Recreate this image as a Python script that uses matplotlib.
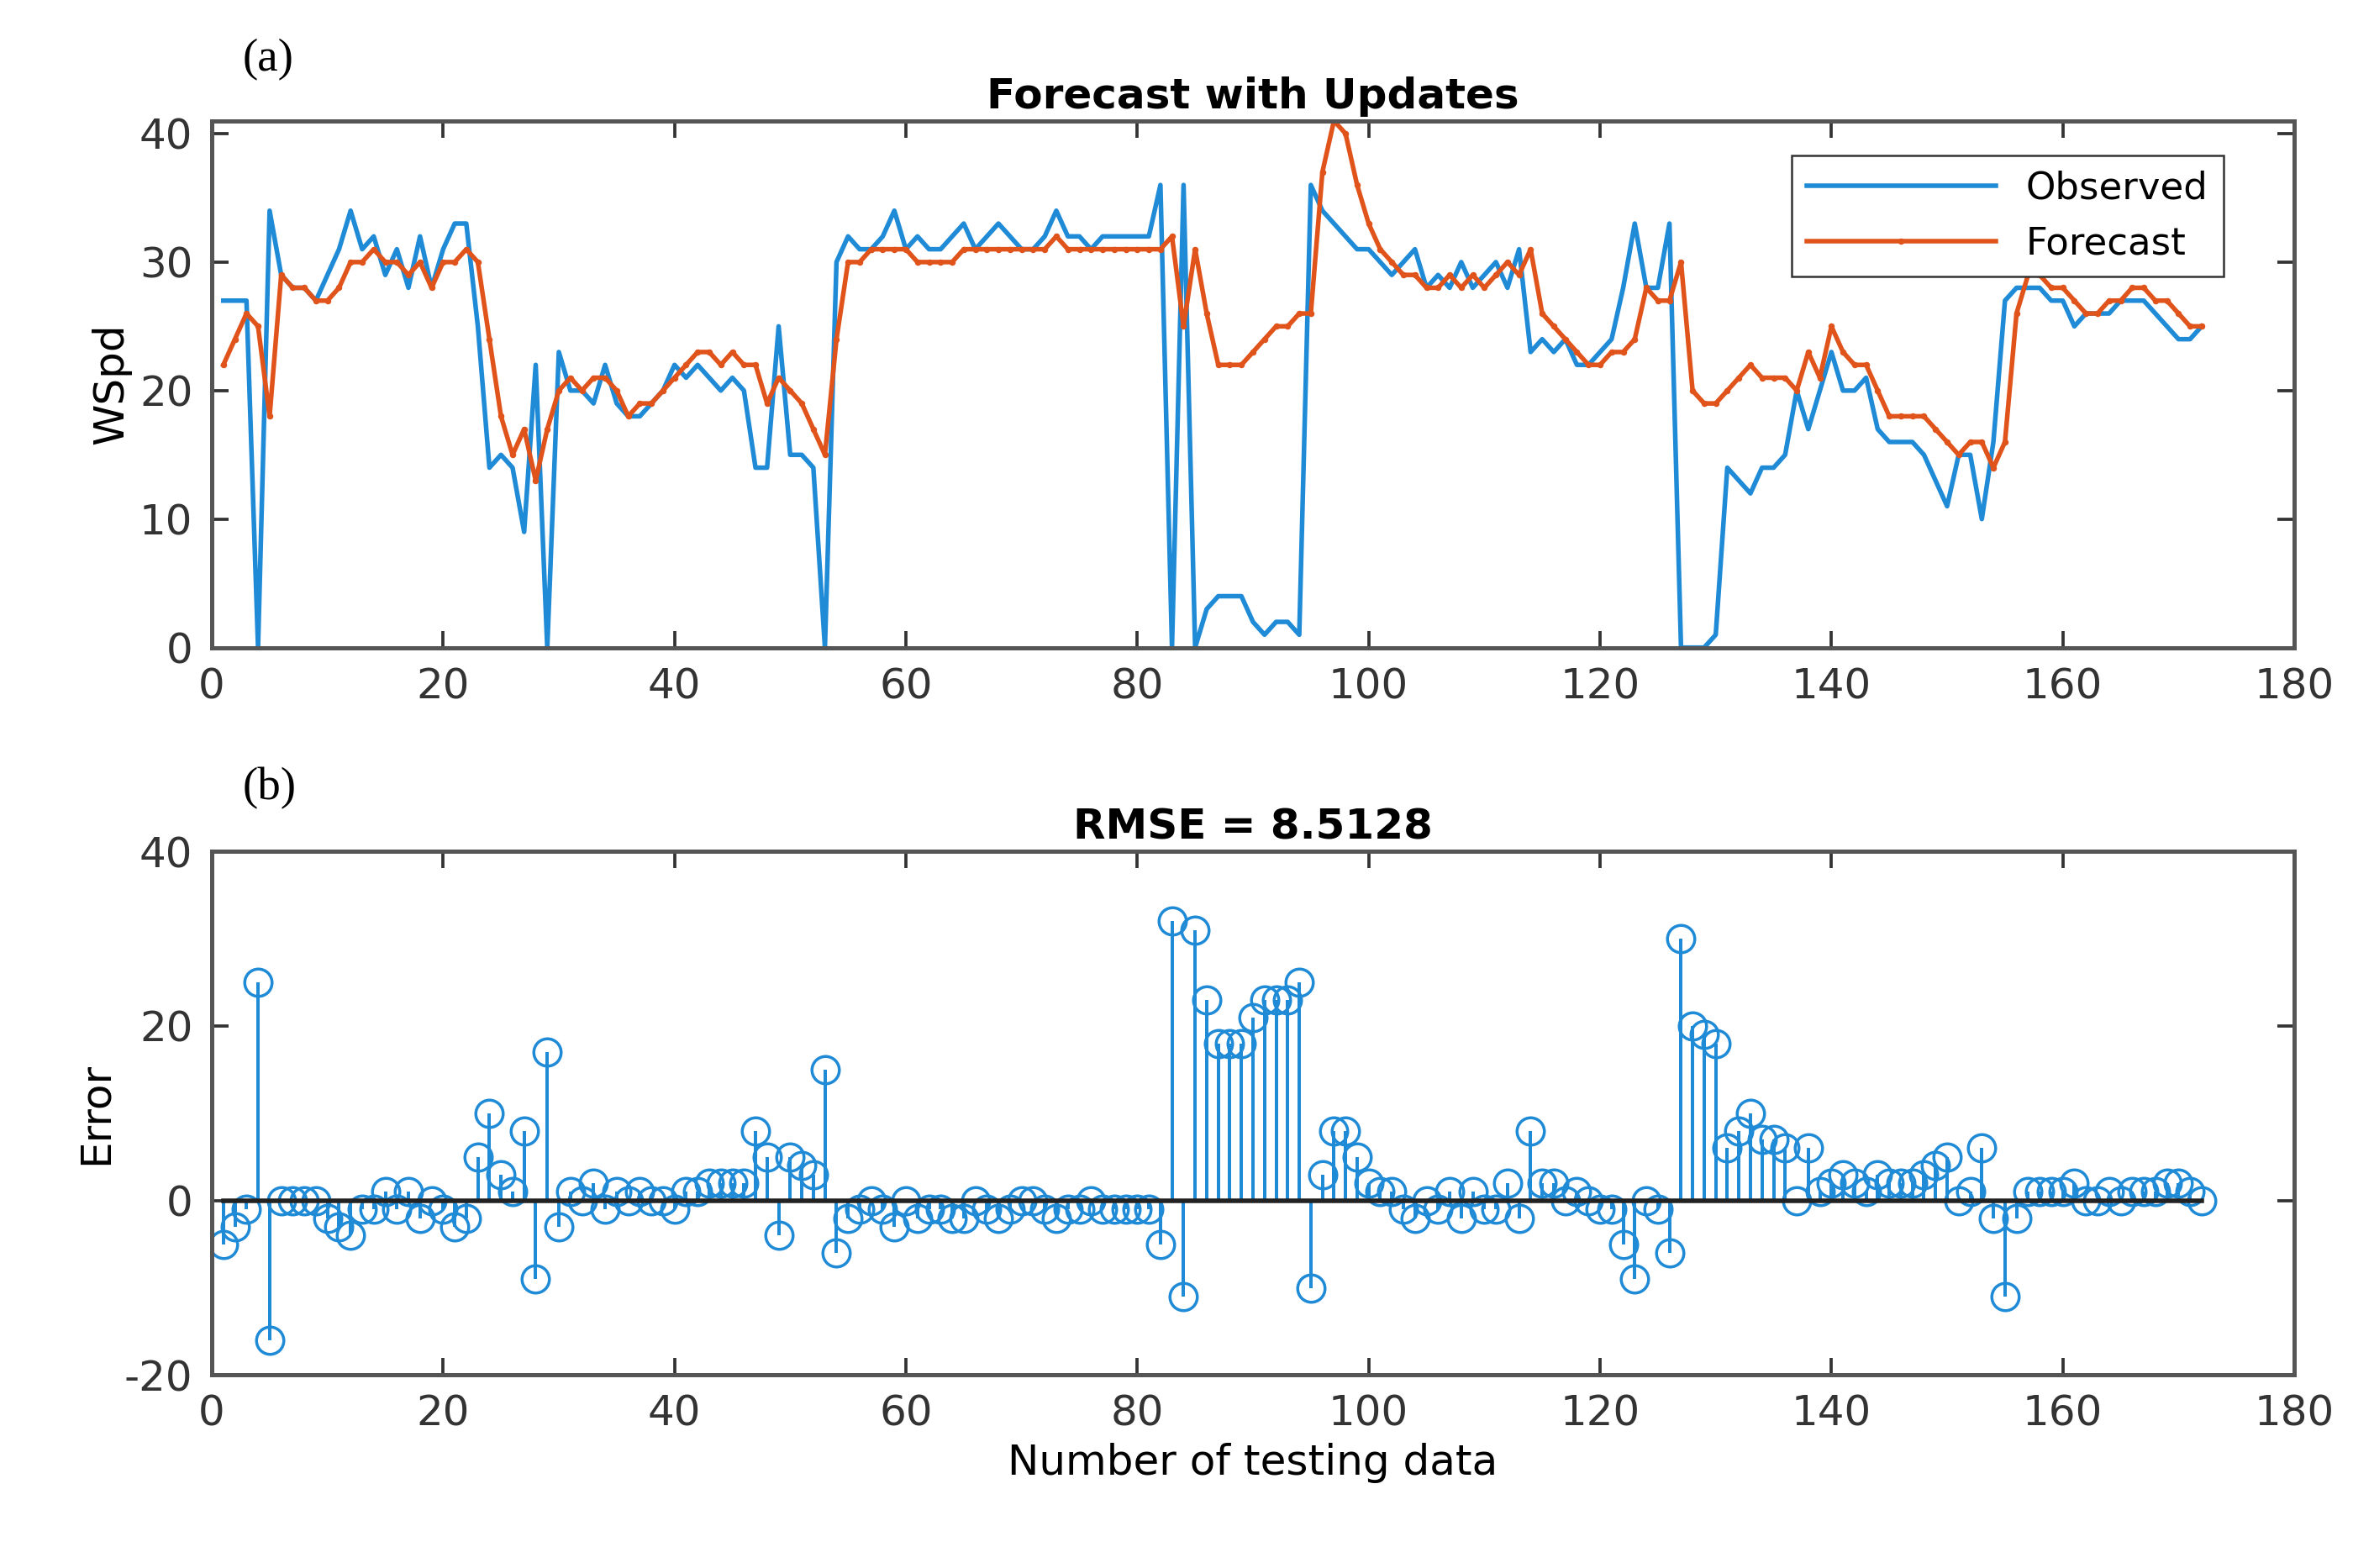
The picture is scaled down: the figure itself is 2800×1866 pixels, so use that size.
#! /usr/bin/env python3
"""
Wind speed forecast with updates: observed vs forecast, and the error stem plot.
"""
import numpy as np
import matplotlib
matplotlib.use('Agg')
import matplotlib.pyplot as plt

observed = [27, 27, 27, 0, 34, 29, 28, 28, 27, 29,
            31, 34, 31, 32, 29, 31, 28, 32, 28, 31,
            33, 33, 25, 14, 15, 14, 9, 22, 0, 23,
            20, 20, 19, 22, 19, 18, 18, 19, 20, 22,
            21, 22, 21, 20, 21, 20, 14, 14, 25, 15,
            15, 14, 0, 30, 32, 31, 31, 32, 34, 31,
            32, 31, 31, 32, 33, 31, 32, 33, 32, 31,
            31, 32, 34, 32, 32, 31, 32, 32, 32, 32,
            32, 36, 0, 36, 0, 3, 4, 4, 4, 2,
            1, 2, 2, 1, 36, 34, 33, 32, 31, 31,
            30, 29, 30, 31, 28, 29, 28, 30, 28, 29,
            30, 28, 31, 23, 24, 23, 24, 22, 22, 23,
            24, 28, 33, 28, 28, 33, 0, 0, 0, 1,
            14, 13, 12, 14, 14, 15, 20, 17, 20, 23,
            20, 20, 21, 17, 16, 16, 16, 15, 13, 11,
            15, 15, 10, 16, 27, 28, 28, 28, 27, 27,
            25, 26, 26, 26, 27, 27, 27, 26, 25, 24,
            24, 25]

forecast = [22, 24, 26, 25, 18, 29, 28, 28, 27, 27,
            28, 30, 30, 31, 30, 30, 29, 30, 28, 30,
            30, 31, 30, 24, 18, 15, 17, 13, 17, 20,
            21, 20, 21, 21, 20, 18, 19, 19, 20, 21,
            22, 23, 23, 22, 23, 22, 22, 19, 21, 20,
            19, 17, 15, 24, 30, 30, 31, 31, 31, 31,
            30, 30, 30, 30, 31, 31, 31, 31, 31, 31,
            31, 31, 32, 31, 31, 31, 31, 31, 31, 31,
            31, 31, 32, 25, 31, 26, 22, 22, 22, 23,
            24, 25, 25, 26, 26, 37, 41, 40, 36, 33,
            31, 30, 29, 29, 28, 28, 29, 28, 29, 28,
            29, 30, 29, 31, 26, 25, 24, 23, 22, 22,
            23, 23, 24, 28, 27, 27, 30, 20, 19, 19,
            20, 21, 22, 21, 21, 21, 20, 23, 21, 25,
            23, 22, 22, 20, 18, 18, 18, 18, 17, 16,
            15, 16, 16, 14, 16, 26, 29, 29, 28, 28,
            27, 26, 26, 27, 27, 28, 28, 27, 27, 26,
            25, 25]

BLUE = '#1f8ad6'
ORANGE = '#e0541c'

x = np.arange(1, len(observed) + 1)
error = np.array(forecast) - np.array(observed)
rmse = 8.5128

plt.rcParams['axes.unicode_minus'] = False

fig = plt.figure(figsize=(2800 / 180, 1866 / 180), dpi=180)
ax1 = fig.add_axes([0.09, 0.587, 0.885, 0.336])
ax2 = fig.add_axes([0.09, 0.123, 0.885, 0.334])

ax1.plot(x, observed, color=BLUE, lw=2.2, label='Observed')
ax1.plot(x, forecast, color=ORANGE, lw=2.2, marker='.', ms=4, label='Forecast')
ax1.set_xlim(0, 180)
ax1.set_ylim(0, 41)
ax1.set_yticks([0, 10, 20, 30, 40])
ax1.set_ylabel('WSpd', fontsize=20)
ax1.set_title('Forecast with Updates', fontsize=20, fontweight='bold')
ax1.legend(loc='upper right', fontsize=18, fancybox=False, edgecolor='#333333',
           framealpha=1, handlelength=5, bbox_to_anchor=(0.975, 0.97))

markerline, stemlines, baseline = ax2.stem(x, error)
plt.setp(stemlines, color=BLUE, lw=1.6)
plt.setp(markerline, color=BLUE, marker='o', ms=13, mfc='none', mew=1.4)
plt.setp(baseline, color='#222222', lw=2.2)
ax2.set_xlim(0, 180)
ax2.set_ylim(-20, 40)
ax2.set_yticks([-20, 0, 20, 40])
ax2.set_ylabel('Error', fontsize=20)
ax2.set_xlabel('Number of testing data', fontsize=20)
ax2.set_title(f'RMSE = {rmse}', fontsize=20, fontweight='bold')

for ax in (ax1, ax2):
    ax.set_xticks(range(0, 181, 20))
    ax.tick_params(labelsize=20, direction='in', length=8, width=1.5, pad=9,
                   top=True, right=True, colors='#333333')
    for s in ax.spines.values():
        s.set_linewidth(2)
        s.set_color('#555555')

fig.text(0.103, 0.955, '(a)', fontsize=22, family='Liberation Serif')
fig.text(0.103, 0.49, '(b)', fontsize=22, family='Liberation Serif')

fig.savefig('out.png', dpi=180)
